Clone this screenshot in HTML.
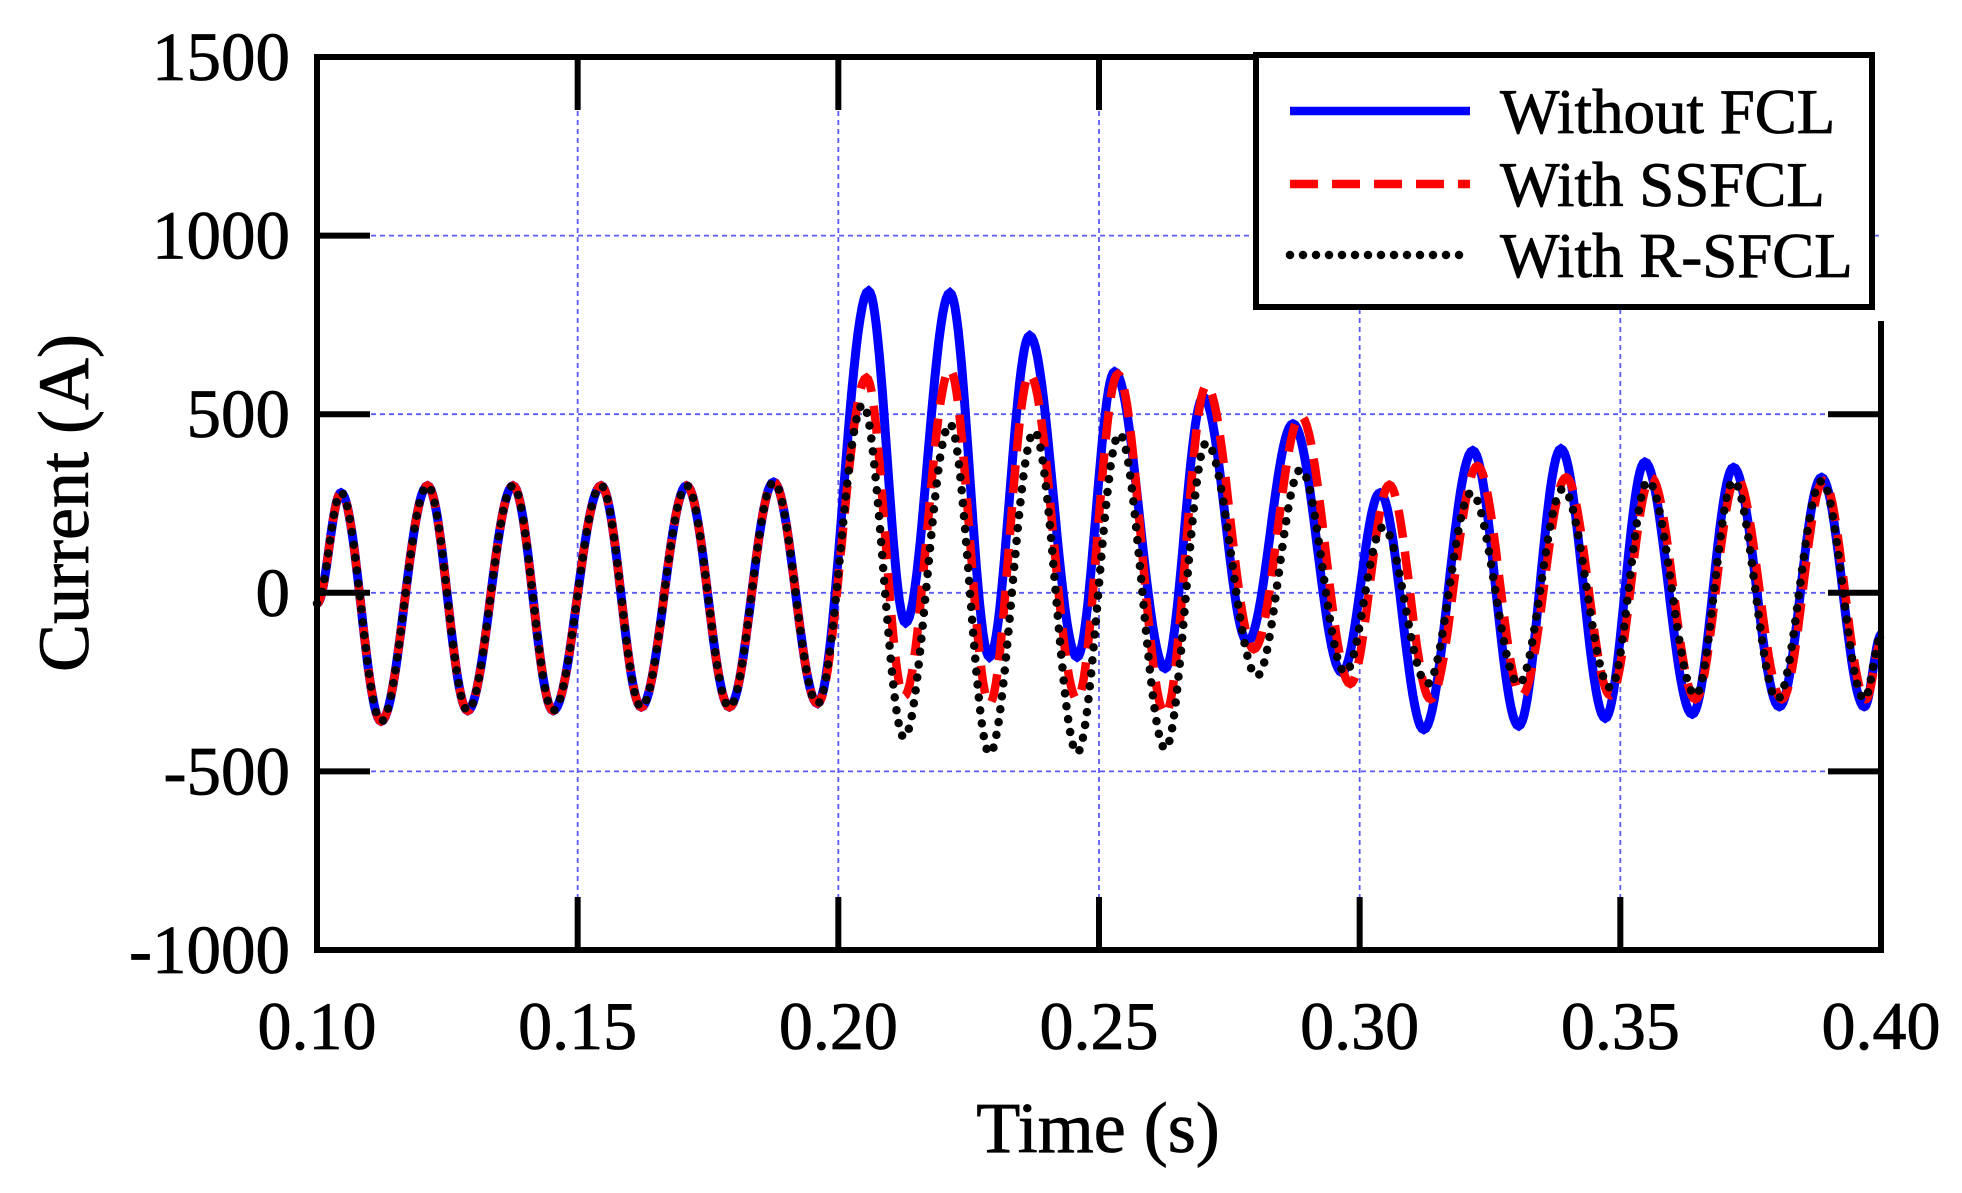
<!DOCTYPE html>
<html><head><meta charset="utf-8"><style>
html,body{margin:0;padding:0;background:#fff;}
svg{display:block;font-family:"Liberation Serif",serif;}
text{stroke:#000;stroke-width:0.8;}
</style></head><body>
<svg id="chart" width="1962" height="1193" viewBox="0 0 1962 1193" xmlns="http://www.w3.org/2000/svg">
<g id="grid"></g>
<g id="series"></g>
<g id="axes"></g>
<g id="legend"></g>
</svg>
<script>
const xTicks = [0.10, 0.15, 0.20, 0.25, 0.30, 0.35, 0.40];
const xTickLabels = ["0.10","0.15","0.20","0.25","0.30","0.35","0.40"];
const yTicks = [-1000, -500, 0, 500, 1000, 1500];
const yTickLabels = ["-1000","-500","0","500","1000","1500"];

const preTimes = [0.100,0.1046,0.1123,0.1212,0.1289,0.1376,0.1453,0.1545,0.1622,0.1709,0.1791,0.1876,0.1960];
const preValues = [-30,280,-360,300,-330,300,-330,300,-320,300,-320,310,-310];

const blueTimes = [0.2058,0.2129,0.2214,0.2290,0.2367,0.2458,0.2530,0.2627,0.2700,0.2785,0.2872,0.2966,0.3039,0.3123,0.3217,0.3305,0.3386,0.3471,0.3547,0.3638,0.3717,0.3805,0.3886,0.3968,0.4001];
const blueValues = [845,-84,840,-180,720,-180,619,-212,548,-137,473,-223,280,-383,398,-373,403,-351,366,-340,351,-319,323,-319,-116];

const redTimes = [0.2054,0.2126,0.2214,0.2290,0.2367,0.2458,0.2536,0.2627,0.2706,0.2797,0.2887,0.2982,0.3057,0.3136,0.3226,0.3311,0.3396,0.3481,0.3559,0.3644,0.3723,0.3810,0.3890,0.3971,0.4001];
const redValues = [602,-290,625,-310,612,-298,612,-340,580,-158,495,-255,302,-298,355,-287,323,-287,323,-298,323,-298,313,-298,-137];

const blackTimes = [0.2047,0.2126,0.2214,0.2290,0.2376,0.2458,0.2539,0.2627,0.2706,0.2803,0.2887,0.2972,0.3045,0.3130,0.3214,0.3305,0.3390,0.3481,0.3553,0.3644,0.3717,0.3801,0.3886,0.3968,0.4001];
const blackValues = [527,-405,473,-450,452,-448,445,-437,420,-233,345,-223,184,-255,280,-255,291,-266,313,-287,313,-298,313,-298,-120];

const L=317, R=1881, T=57, B=950;
function xs(t){return L+(t-0.10)/0.30*(R-L);}
function ys(v){return B-(v+1000)/2500*(B-T);}
const NS="http://www.w3.org/2000/svg";
function mk(tag,parent){const e=document.createElementNS(NS,tag);parent.appendChild(e);return e;}

const grid=document.getElementById('grid');
xTicks.slice(1,-1).forEach(t=>{
  const l=mk('line',grid);
  
  
  l.setAttribute('x1',xs(t));l.setAttribute('x2',xs(t));l.setAttribute('y1',T);l.setAttribute('y2',B);
  l.setAttribute('stroke','#5a5af5');l.setAttribute('stroke-width','1.8');l.setAttribute('stroke-dasharray','5 4');
});
yTicks.slice(1,-1).forEach(v=>{
  const l=mk('line',grid);
  
  
  l.setAttribute('x1',L);l.setAttribute('x2',R);l.setAttribute('y1',ys(v));l.setAttribute('y2',ys(v));
  l.setAttribute('stroke','#5a5af5');l.setAttribute('stroke-width','1.8');l.setAttribute('stroke-dasharray','5 4');
});

function pathFor(times,values){
  const ts=preTimes.concat(times), vs=preValues.concat(values);
  let d='M'+xs(ts[0]).toFixed(1)+' '+ys(vs[0]).toFixed(1);
  for(let i=1;i<ts.length;i++){
    const n=24;
    for(let k=1;k<=n;k++){
      const f=k/n, w=(1-Math.cos(Math.PI*f))/2;
      const t=ts[i-1]+(ts[i]-ts[i-1])*f, v=vs[i-1]+(vs[i]-vs[i-1])*w;
      d+=' L'+xs(t).toFixed(1)+' '+ys(v).toFixed(1);
    }
  }
  return d;
}
const series=document.getElementById('series');
const sBlue=mk('path',series);


sBlue.setAttribute('d',pathFor(blueTimes,blueValues));
sBlue.setAttribute('fill','none');sBlue.setAttribute('stroke','#0000ff');sBlue.setAttribute('stroke-width','9');
const sRed=mk('path',series);


sRed.setAttribute('d',pathFor(redTimes,redValues));
sRed.setAttribute('fill','none');sRed.setAttribute('stroke','#ff0000');sRed.setAttribute('stroke-width','8.5');sRed.setAttribute('stroke-dasharray','28 14');
const sBlack=mk('path',series);


sBlack.setAttribute('d',pathFor(blackTimes,blackValues));
sBlack.setAttribute('fill','none');sBlack.setAttribute('stroke','#000');sBlack.setAttribute('stroke-width','8.5');sBlack.setAttribute('stroke-dasharray','0 13');sBlack.setAttribute('stroke-linecap','round');

const axes=document.getElementById('axes');
function line(p,x1,y1,x2,y2,w,name){const l=mk('line',p);
  
  
  l.setAttribute('x1',x1);l.setAttribute('y1',y1);l.setAttribute('x2',x2);l.setAttribute('y2',y2);l.setAttribute('stroke','#000');l.setAttribute('stroke-width',w);l.setAttribute('stroke-linecap','square');}
line(axes,L,T,L,B,6,'left-axis');
line(axes,L,B,R,B,6,'bottom-axis');
line(axes,L,T,1256,T,6,'top-axis');
line(axes,R,324,R,B,6,'right-axis');
xTicks.forEach((t,i)=>{
  if(i>0&&i<xTicks.length-1){line(axes,xs(t),B,xs(t),B-50,6,'x-tick');if(xs(t)<1256)line(axes,xs(t),T,xs(t),T+50,6,'x-tick-top');}
  const tx=mk('text',axes);
  
  
  tx.setAttribute('x',xs(t));tx.setAttribute('y',1049);tx.setAttribute('text-anchor','middle');tx.setAttribute('font-size','68');
  tx.textContent=xTickLabels[i];
});
yTicks.forEach((v,i)=>{
  if(i>0&&i<yTicks.length-1){line(axes,L,ys(v),L+50,ys(v),6,'y-tick');if(ys(v)>324)line(axes,R,ys(v),R-50,ys(v),6,'y-tick-right');}
  const tx=mk('text',axes);
  
  
  tx.setAttribute('x',290);tx.setAttribute('y',ys(v)+23);tx.setAttribute('text-anchor','end');tx.setAttribute('font-size','69');
  tx.textContent=yTickLabels[i];
});
</script>
<script>
(function(){
const axes=document.getElementById('axes');
const NS="http://www.w3.org/2000/svg";
const xt=document.createElementNS(NS,'text');axes.appendChild(xt);


xt.setAttribute('x',1098);xt.setAttribute('y',1152);xt.setAttribute('text-anchor','middle');xt.setAttribute('font-size','72');xt.textContent='Time (s)';
const yt=document.createElementNS(NS,'text');axes.appendChild(yt);


yt.setAttribute('transform','translate(88,503) rotate(-90)');yt.setAttribute('text-anchor','middle');yt.setAttribute('font-size','72');yt.textContent='Current (A)';

const lg=document.getElementById('legend');
const box=document.createElementNS(NS,'rect');lg.appendChild(box);


box.setAttribute('x',1256);box.setAttribute('y',55);box.setAttribute('width',616);box.setAttribute('height',252);
box.setAttribute('fill','#fff');box.setAttribute('stroke','#000');box.setAttribute('stroke-width','6');
const entries=[['legend-without-fcl','Without FCL','#0000ff','',111,'butt'],['legend-with-ssfcl','With SSFCL','#ff0000','28 14',184,'butt'],['legend-with-r-sfcl','With R-SFCL','#000','0 13',255,'round']];
entries.forEach(e=>{
  const l=document.createElementNS(NS,'line');lg.appendChild(l);
  
  
  l.setAttribute('x1',1290);l.setAttribute('x2',1470);l.setAttribute('y1',e[4]);l.setAttribute('y2',e[4]);
  l.setAttribute('stroke',e[2]);l.setAttribute('stroke-width','8.5');l.setAttribute('stroke-linecap',e[5]);
  if(e[3])l.setAttribute('stroke-dasharray',e[3]);
  const t=document.createElementNS(NS,'text');lg.appendChild(t);
  
  
  t.setAttribute('x',1500);t.setAttribute('y',e[4]+22);t.setAttribute('font-size','63');t.textContent=e[1];
});
})();
</script>
</body></html>
